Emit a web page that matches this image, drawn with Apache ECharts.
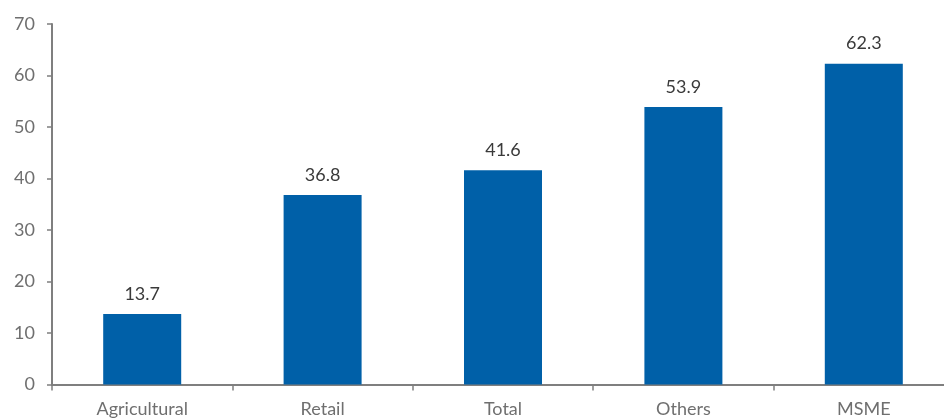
<!DOCTYPE html>
<html><head><meta charset="utf-8">
<script src="https://cdn.jsdelivr.net/npm/echarts@6/dist/echarts.min.js"></script>
<style>html,body{margin:0;padding:0;background:#fff}#c{width:944px;height:419px}</style>
</head><body><div id="c"></div>
<script>
const categories = ["Agricultural", "Retail", "Total", "Others", "MSME"];
const values = [13.7, 36.8, 41.6, 53.9, 62.3];
const yTicks = [0, 10, 20, 30, 40, 50, 60, 70];

const chart = echarts.init(document.getElementById('c'));
chart.setOption({
  animation: false,
  grid: { left: 52, top: 24, width: 902, height: 360.5, outerBoundsMode: 'none', containLabel: false },
  xAxis: {
    type: 'category', data: categories,
    axisLine: { lineStyle: { color: '#7f7f7f', width: 2 } },
    axisTick: { show: true, length: 6, lineStyle: { color: '#7f7f7f', width: 1.5 } },
    axisLabel: { color: '#6f6f6f', fontFamily: 'Lato', fontSize: 18, margin: 16 }
  },
  yAxis: {
    type: 'value', min: yTicks[0], max: yTicks[yTicks.length - 1], interval: 10,
    splitLine: { show: false },
    axisLine: { show: true, lineStyle: { color: '#7f7f7f', width: 2 } },
    axisTick: { show: true, length: 5, lineStyle: { color: '#7f7f7f', width: 1.5 } },
    axisLabel: { color: '#6f6f6f', fontFamily: 'Lato', fontSize: 18, margin: 17 }
  },
  series: [{
    type: 'bar', data: values, barWidth: 78,
    itemStyle: { color: '#0060A8' },
    label: { show: true, position: 'top', distance: 11, color: '#3a3a3a', fontFamily: 'Lato', fontSize: 18,
      formatter: p => p.value.toFixed(1) }
  }]
});
</script></body></html>
